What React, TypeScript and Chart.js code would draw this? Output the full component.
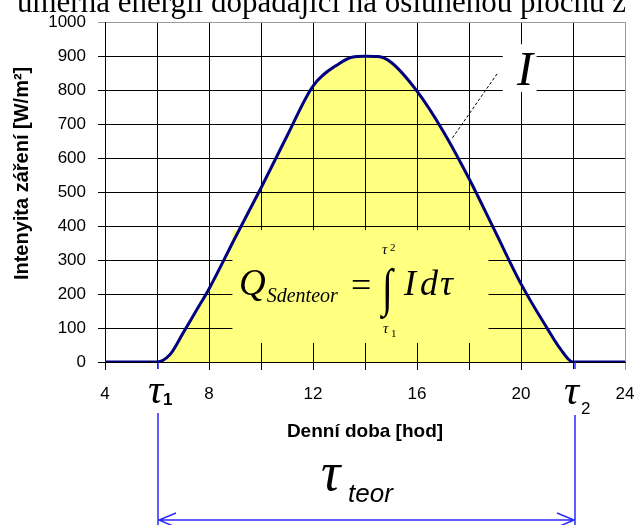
import React, { useEffect, useRef } from 'react';
import { Chart, registerables } from 'chart.js';

Chart.register(...registerables);

// Hour of day and solar irradiance I [W/m²]
const hours = [4, 5, 6, 6.5, 7, 7.5, 8, 9, 10, 11, 12, 13, 13.5, 14, 14.5, 15, 16, 17, 18, 19, 20, 21, 21.5, 22, 23, 24];
const irradiance = [0, 0, 0, 22, 85, 150, 215, 365, 512, 665, 812, 878, 897, 900, 899, 882, 797, 680, 540, 385, 230, 100, 40, 0, 0, 0];

// Axis ticks
const xTickValues = [4, 6, 8, 10, 12, 14, 16, 18, 20, 22, 24];
const xTickLabels = [4, 8, 12, 16, 20, 24];
const yTickValues = [0, 100, 200, 300, 400, 500, 600, 700, 800, 900, 1000];

// Sunrise / sunset of the theoretical day length
const tau1 = 6;
const tau2 = 22;

const headline = 'úměrná energii dopadající na osluněnou plochu z';
const xTitle = 'Denní doba [hod]';
const yTitle = 'Intenyita záření [W/m²]';

const FILL = '#ffff80';
const CURVE = '#000080';
const BLUE = '#2b2bff';
const SERIF = '"Liberation Serif", "Times New Roman", serif';
const SANS = '"Liberation Sans", Arial, sans-serif';

const overlay = {
  id: 'overlay',
  beforeDatasetsDraw(chart: any) {
    const { ctx, chartArea } = chart;
    const xs = chart.scales.x;
    const ys = chart.scales.y;
    const X = (h: number) => xs.getPixelForValue(h);
    const Y = (v: number) => ys.getPixelForValue(v);
    ctx.save();

    // Headline running off the top edge
    ctx.fillStyle = '#000';
    ctx.font = `31px ${SERIF}`;
    ctx.textBaseline = 'alphabetic';
    ctx.textAlign = 'left';
    ctx.fillText(headline, 17, 12);

    // Y axis title
    ctx.save();
    ctx.translate(22, Y(555));
    ctx.rotate(-Math.PI / 2);
    ctx.font = `bold 20px ${SANS}`;
    ctx.textAlign = 'center';
    ctx.textBaseline = 'middle';
    ctx.fillText(yTitle, 0, 0);
    ctx.restore();

    // Formula backdrop
    ctx.fillStyle = FILL;
    ctx.fillRect(X(8.9), Y(388), X(18.75) - X(8.9), Y(56) - Y(388));

    // Formula Q = ∫ I dτ
    ctx.fillStyle = '#000';
    ctx.font = `italic 37px ${SERIF}`;
    ctx.fillText('Q', 239, 295);
    const qw = ctx.measureText('Q').width;
    ctx.font = `italic 20px ${SERIF}`;
    ctx.fillText('Sdenteor', 239 + qw + 1, 302);
    ctx.font = `36px ${SERIF}`;
    ctx.fillText('=', 351, 297);
    ctx.save();
    ctx.translate(382, 305);
    ctx.scale(1.1, 1.45);
    ctx.font = `36px ${SERIF}`;
    ctx.fillText('∫', 0, 0);
    ctx.restore();
    ctx.font = `italic 15px ${SERIF}`;
    ctx.fillText('τ', 382, 254);
    ctx.fillText('τ', 383, 333);
    ctx.font = `11px ${SERIF}`;
    ctx.fillText('2', 390, 251);
    ctx.fillText('1', 391, 337);
    ctx.font = `italic 36px ${SERIF}`;
    ctx.fillText('I', 404, 295);
    ctx.fillText('d', 420, 295);
    ctx.fillText('τ', 440, 295);

    // Curve label I with leader
    ctx.fillStyle = '#fff';
    ctx.fillRect(X(19.3), Y(935), X(20.6) - X(19.3), Y(795) - Y(935));
    ctx.fillStyle = '#000';
    ctx.font = `italic 48px ${SERIF}`;
    ctx.textAlign = 'center';
    ctx.fillText('I', X(20.15), 85);
    ctx.textAlign = 'left';
    ctx.strokeStyle = '#000';
    ctx.lineWidth = 1;
    ctx.setLineDash([3, 2]);
    ctx.beginPath();
    ctx.moveTo(X(19.08), Y(848));
    ctx.lineTo(X(17.35), Y(658));
    ctx.stroke();
    ctx.setLineDash([]);

    // Day-length dimension line
    const x1 = X(tau1);
    const x2 = X(tau2);
    const yArrow = 520;
    ctx.strokeStyle = BLUE;
    ctx.lineWidth = 1.5;
    ctx.beginPath();
    ctx.moveTo(x1 + 1, chartArea.bottom);
    ctx.lineTo(x1 + 1, 525);
    ctx.moveTo(x2 + 2, chartArea.bottom);
    ctx.lineTo(x2 + 2, 525);
    ctx.moveTo(x1 + 1, yArrow);
    ctx.lineTo(x2 + 2, yArrow);
    ctx.moveTo(x1 + 19, yArrow - 7);
    ctx.lineTo(x1 + 2, yArrow);
    ctx.lineTo(x1 + 16, yArrow + 6);
    ctx.moveTo(x2 - 16, yArrow - 7);
    ctx.lineTo(x2 + 1, yArrow);
    ctx.lineTo(x2 - 13, yArrow + 6);
    ctx.stroke();

    // τ1, τ2 marks under the axis
    ctx.fillStyle = '#fff';
    ctx.fillRect(x1 - 20, chartArea.bottom + 7, 38, 44);
    ctx.fillRect(x2 - 20, chartArea.bottom + 7, 42, 46);
    ctx.fillStyle = '#000';
    ctx.font = `italic 42px ${SERIF}`;
    ctx.textAlign = 'right';
    ctx.fillText('τ', x1 + 6, 403);
    ctx.fillText('τ', x2 + 6, 404);
    ctx.textAlign = 'left';
    ctx.font = `bold 17px ${SANS}`;
    ctx.fillText('1', x1 + 6, 405);
    ctx.font = `17px ${SANS}`;
    ctx.fillText('2', x2 + 8, 414);

    // τ_teor
    ctx.font = `italic 54px ${SERIF}`;
    ctx.fillText('τ', 321, 490);
    ctx.font = `italic 26px ${SANS}`;
    ctx.fillText('teor', 348, 502);

    ctx.restore();
  },
};

export default function App() {
  const ref = useRef<HTMLCanvasElement | null>(null);

  useEffect(() => {
    const canvas = ref.current;
    if (!canvas) return;
    const chart = new Chart(canvas, {
      type: 'line',
      data: {
        datasets: [
          {
            data: hours.map((h, i) => ({ x: h, y: irradiance[i] })),
            borderColor: CURVE,
            borderWidth: 3,
            backgroundColor: FILL,
            fill: 'origin',
            pointRadius: 0,
            cubicInterpolationMode: 'monotone',
          },
        ],
      },
      options: {
        responsive: false,
        animation: false,
        layout: { padding: { left: 0, right: 12, top: 20, bottom: 82 } },
        plugins: {
          legend: { display: false },
          tooltip: { enabled: false },
          filler: { drawTime: 'beforeDraw' },
        } as any,
        scales: {
          x: {
            type: 'linear',
            min: 4,
            max: 24,
            afterFit: (s: any) => {
              s.height = 81;
              s.paddingLeft = 0;
              s.paddingRight = 0;
            },
            afterBuildTicks: (s: any) => {
              s.ticks = xTickValues.map((v) => ({ value: v }));
            },
            ticks: {
              autoSkip: false,
              maxRotation: 0,
              color: '#000',
              padding: 14,
              font: { family: SANS, size: 17 },
              callback: (v: any) => (xTickLabels.includes(Number(v)) ? String(v) : ''),
            },
            grid: {
              color: (c: any) => (c.tick && c.tick.value === 24 ? '#9a9a9a' : '#000'),
              lineWidth: 1,
              tickLength: 8,
            },
            border: { color: '#000', width: 1 },
            title: {
              display: true,
              text: xTitle,
              color: '#000',
              font: { family: SANS, size: 19, weight: 'bold' },
              padding: 0,
            },
          },
          y: {
            min: 0,
            max: 1000,
            afterFit: (s: any) => {
              s.width = 105;
            },
            afterBuildTicks: (s: any) => {
              s.ticks = yTickValues.map((v) => ({ value: v }));
            },
            ticks: {
              color: '#000',
              padding: 12,
              font: { family: SANS, size: 17 },
              callback: (v: any) => String(v),
            },
            grid: {
              color: (c: any) => (c.tick && c.tick.value === 1000 ? '#9a9a9a' : '#000'),
              lineWidth: 1,
              tickLength: 7,
            },
            border: { color: '#000', width: 1 },
          },
        },
      } as any,
      plugins: [overlay],
    });
    return () => chart.destroy();
  }, []);

  return (
    <div style={{ position: 'fixed', left: 0, top: 0, width: 637, height: 525, background: '#fff' }}>
      <canvas ref={ref} width={637} height={525} style={{ display: 'block' }} />
    </div>
  );
}
